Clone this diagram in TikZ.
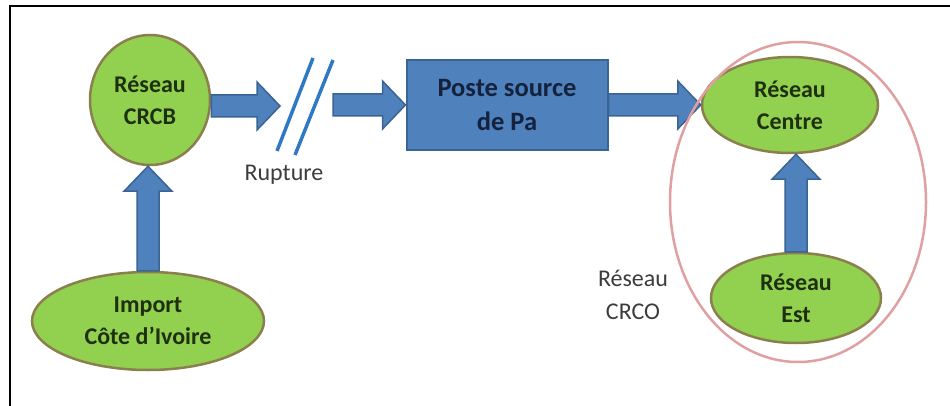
\documentclass[tikz,border=0pt]{standalone}
\usepackage{fontspec}
\setmainfont{Carlito}
\usetikzlibrary{shapes.geometric,calc}
\definecolor{greenfill}{HTML}{92D050}
\definecolor{greenline}{HTML}{8C7F4E}
\definecolor{greentext}{HTML}{1E3010}
\definecolor{bluefill}{HTML}{4F81BD}
\definecolor{blueline}{HTML}{3A6494}
\definecolor{boxtext}{HTML}{14223E}
\definecolor{rupblue}{HTML}{2F78C4}
\definecolor{pinkline}{HTML}{E0A0A2}
\definecolor{labeltext}{HTML}{3C3C3C}
\tikzset{
  greennode/.style={ellipse, fill=greenfill, draw=greenline, line width=2.5pt, inner sep=0pt,
    text=greentext, align=center, font=\fontsize{24}{32}\selectfont\bfseries},
  bluebox/.style={rectangle, fill=bluefill, draw=blueline, line width=2pt, inner sep=0pt,
    text=boxtext, align=center, font=\fontsize{26.5}{34}\selectfont\bfseries},
  blk/.style={fill=bluefill, draw=blueline, line width=1.5pt, line join=miter},
  lbl/.style={text=labeltext, align=center, font=\fontsize{24}{33}\selectfont},
  rupline/.style={draw=rupblue, line width=3.5pt},
}
\newcommand\hblock[2]{\path[blk] let \p1=(#1), \p2=(#2) in
  (\x1,\y2+11pt) -- (\x2-23pt,\y2+11pt) -- (\x2-23pt,\y2+24pt) -- (\x2,\y2)
  -- (\x2-23pt,\y2-24pt) -- (\x2-23pt,\y2-11pt) -- (\x1,\y2-11pt) -- cycle;}
\newcommand\vblock[2]{\path[blk] let \p1=(#1), \p2=(#2) in
  (\x1-11pt,\y1) -- (\x1-11pt,\y2-25pt) -- (\x1-24pt,\y2-25pt) -- (\x1,\y2)
  -- (\x1+24pt,\y2-25pt) -- (\x1+11pt,\y2-25pt) -- (\x1+11pt,\y1) -- cycle;}
\begin{document}
\begin{tikzpicture}[x=1pt,y=-1pt]
\useasboundingbox (0,0) rectangle (950,406);
% frame
\draw[line width=2pt, black] (10,406) -- (10,6) -- (950,6);
% nodes
\node[greennode, minimum width=120pt, minimum height=130pt] (crcb) at (150,100) {Réseau\\CRCB};
\node[greennode, minimum width=232pt, minimum height=98pt] (import) at (148,321) {Import\\Côte d’Ivoire};
\node[bluebox, minimum width=201pt, minimum height=90pt] (box) at (507,105) {Poste source\\de Pa};
\node[greennode, minimum width=176pt, minimum height=96pt] (centre) at (790,105) {Réseau\\Centre};
\node[greennode, minimum width=170pt, minimum height=90pt] (est) at (796,298) {Réseau\\Est};
\node[lbl] (crco) at (633,295) {Réseau\\CRCO};
\node[lbl] (rupture) at (284,175) {Rupture};
% rupture marks
\coordinate (r1) at (280,106);
\coordinate (r2) at (333,106);
\coordinate (la1) at (277,151);
\coordinate (la2) at (313,58);
\coordinate (lb1) at (295,155);
\coordinate (lb2) at (333,60);
\draw[rupline] (la1) -- (la2);
\draw[rupline] (lb1) -- (lb2);
% arrows
\hblock{crcb.east}{r1}
\hblock{r2}{box.west}
\hblock{box.east}{centre.west}
\vblock{import.north}{crcb.south}
\vblock{est.north}{centre.south}
% CRCO grouping
\node[ellipse, draw=pinkline, line width=2.5pt, minimum width=256pt, minimum height=320pt, inner sep=0pt] (crcogroup) at (798,202) {};
\end{tikzpicture}
\end{document}
